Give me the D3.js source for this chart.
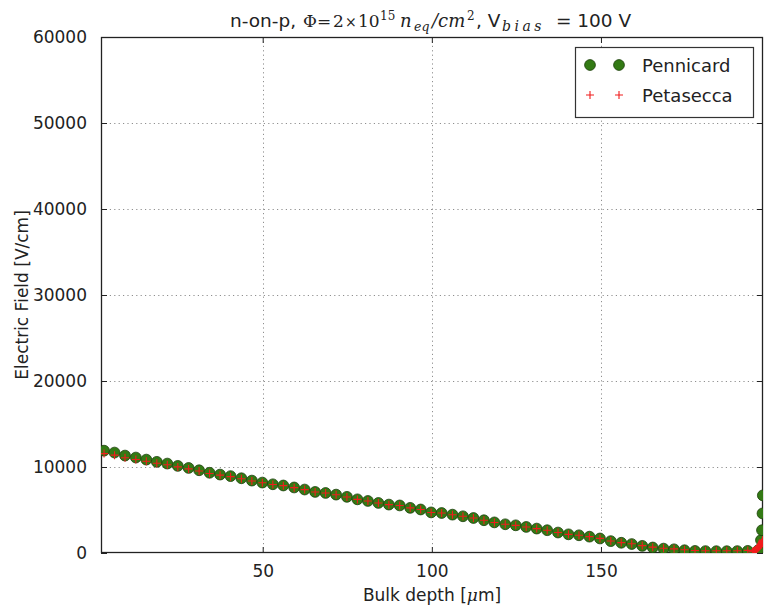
<!DOCTYPE html>
<html>
<head>
<meta charset="utf-8">
<script src="https://cdn.jsdelivr.net/npm/d3@7"></script>
<style>
  html, body { margin: 0; padding: 0; background: #fff; }
  svg { display: block; }
  text { fill: #222; }
</style>
</head>
<body>
<svg id="chart" width="764" height="609"></svg>
<script>
// Bulk depth sample positions [µm] and electric field [V/cm] for both models
const depthPennicard = [
  3.1, 6.2, 9.3, 12.5, 15.6, 18.7, 21.8, 24.9, 28.1, 31.2,
  34.3, 37.4, 40.5, 43.7, 46.8, 49.9, 53.0, 56.1, 59.3, 62.4,
  65.5, 68.6, 71.7, 74.9, 78.0, 81.1, 84.2, 87.3, 90.5, 93.6,
  96.7, 99.8, 102.9, 106.1, 109.2, 112.3, 115.4, 118.5, 121.7, 124.8,
  127.9, 131.0, 134.1, 137.3, 140.4, 143.5, 146.6, 149.7, 152.9, 156.0,
  159.1, 162.2, 165.3, 168.5, 171.6, 174.7, 177.8, 180.9, 184.1, 187.2,
  190.3, 193.4, 196.5, 197.3, 197.6, 197.75, 197.85
];
const fieldPennicard = [
  11900, 11680, 11330, 11100, 10860, 10600, 10400, 10130, 9890, 9620,
  9330, 9120, 8940, 8690, 8420, 8190, 7990, 7850, 7620, 7380,
  7100, 6980, 6790, 6530, 6240, 6050, 5820, 5630, 5530, 5250,
  5060, 4720, 4650, 4460, 4270, 4070, 3810, 3560, 3340, 3220,
  3030, 2840, 2650, 2380, 2170, 2060, 1900, 1690, 1380, 1190,
  1040, 830, 640, 510, 430, 320, 240, 220, 210, 210,
  220, 250, 330, 1500, 2650, 4600, 6700
];
const depthPetasecca = [
  3.1, 6.2, 9.3, 12.5, 15.6, 18.7, 21.8, 24.9, 28.1, 31.2,
  34.3, 37.4, 40.5, 43.7, 46.8, 49.9, 53.0, 56.1, 59.3, 62.4,
  65.5, 68.6, 71.7, 74.9, 78.0, 81.1, 84.2, 87.3, 90.5, 93.6,
  96.7, 99.8, 102.9, 106.1, 109.2, 112.3, 115.4, 118.5, 121.7, 124.8,
  127.9, 131.0, 134.1, 137.3, 140.4, 143.5, 146.6, 149.7, 152.9, 156.0,
  159.1, 162.2, 165.3, 168.5, 171.6, 174.7, 177.8, 180.9, 184.1, 187.2,
  190.3, 193.4, 194.8, 195.1, 195.4, 195.7, 196.0, 196.2, 196.4, 196.6,
  196.8, 197.0, 197.1, 197.2, 197.3, 197.4, 197.5, 197.6, 197.7, 197.8,
  197.85
];
const fieldPetasecca = [
  11560, 11380, 11080, 10880, 10670, 10440, 10260, 10010, 9780, 9530,
  9250, 9050, 8880, 8640, 8380, 8160, 7960, 7830, 7600, 7370,
  7090, 6970, 6780, 6520, 6235, 6045, 5815, 5625, 5525, 5245,
  5055, 4715, 4645, 4455, 4265, 4065, 3805, 3555, 3335, 3215,
  3025, 2835, 2645, 2380, 2170, 2060, 1900, 1700, 1400, 1210,
  1070, 860, 680, 560, 480, 370, 290, 270, 260, 260,
  270, 300, 150, 210, 280, 360, 450, 520, 590, 670,
  760, 850, 900, 950, 1010, 1080, 1150, 1230, 1320, 1420,
  1500
];

const xTicks = [50, 100, 150];
const yTicks = [0, 10000, 20000, 30000, 40000, 50000, 60000];
const seriesNames = ["Pennicard", "Petasecca"];

const svg = d3.select("#chart");
const plot = { left: 101, top: 37, right: 763, bottom: 553 };

const x = d3.scaleLinear().domain([2.2, 197.9]).range([plot.left, plot.right]);
const y = d3.scaleLinear().domain([0, 60000]).range([plot.bottom, plot.top]);

const sans = "'DejaVu Sans', sans-serif";
const serif = "'DejaVu Serif', 'Liberation Serif', serif";

svg.append("defs").append("clipPath").attr("id", "plot-clip")
  .append("rect")
  .attr("x", plot.left).attr("y", plot.top)
  .attr("width", plot.right - plot.left).attr("height", plot.bottom - plot.top);

// dotted grid
const grid = svg.append("g").attr("stroke", "#8f8f8f").attr("stroke-width", 1)
  .attr("stroke-dasharray", "1.2,3.2");
grid.selectAll("line.gx").data(xTicks).join("line").attr("class", "gx")
  .attr("x1", d => Math.round(x(d)) + 0.5).attr("x2", d => Math.round(x(d)) + 0.5)
  .attr("y1", plot.top).attr("y2", plot.bottom);
grid.selectAll("line.gy").data(yTicks.filter(d => d > 0 && d < 60000)).join("line").attr("class", "gy")
  .attr("y1", d => Math.round(y(d)) + 0.5).attr("y2", d => Math.round(y(d)) + 0.5)
  .attr("x1", plot.left).attr("x2", plot.right);

// axes with inward ticks on all four sides
const tick = 6;
const axisBottom = d3.axisBottom(x).tickValues(xTicks).tickSizeInner(-tick).tickSizeOuter(0).tickPadding(12);
const axisTop = d3.axisTop(x).tickValues(xTicks).tickSizeInner(-tick).tickSizeOuter(0).tickFormat("");
const axisLeft = d3.axisLeft(y).tickValues(yTicks).tickSizeInner(-tick).tickSizeOuter(0).tickPadding(14).tickFormat(d3.format("d"));
const axisRight = d3.axisRight(y).tickValues(yTicks).tickSizeInner(-tick).tickSizeOuter(0).tickFormat("");

function styleAxis(g) {
  g.select(".domain").remove();
  g.selectAll(".tick line").attr("stroke", "#222").attr("stroke-width", 1);
  g.selectAll(".tick text").attr("fill", "#222").style("font-family", sans).style("font-size", "17px");
}
svg.append("g").attr("transform", `translate(0,${plot.bottom})`).call(axisBottom).call(styleAxis);
svg.append("g").attr("transform", `translate(0,${plot.top})`).call(axisTop).call(styleAxis);
svg.append("g").attr("transform", `translate(${plot.left},0)`).call(axisLeft).call(styleAxis);
svg.append("g").attr("transform", `translate(${plot.right},0)`).call(axisRight).call(styleAxis);

// frame
svg.append("rect")
  .attr("x", plot.left + 0.5).attr("y", plot.top + 0.5)
  .attr("width", plot.right - plot.left - 1).attr("height", plot.bottom - plot.top - 1)
  .attr("fill", "none").attr("stroke", "#222").attr("stroke-width", 1.3);

// data markers
const marks = svg.append("g").attr("clip-path", "url(#plot-clip)");
const green = "#337a14", greenEdge = "#1c3f0a", red = "#f01c1c";

marks.append("g").selectAll("circle")
  .data(d3.zip(depthPennicard, fieldPennicard)).join("circle")
  .attr("cx", d => x(d[0])).attr("cy", d => y(d[1])).attr("r", 5.4)
  .attr("fill", green).attr("stroke", greenEdge).attr("stroke-width", 0.8);

const plus = "M-4,0H4M0,-4V4";
marks.append("g").selectAll("path")
  .data(d3.zip(depthPetasecca, fieldPetasecca)).join("path")
  .attr("d", plus)
  .attr("transform", d => `translate(${x(d[0])},${y(d[1])})`)
  .attr("stroke", red).attr("stroke-width", 1.1).attr("fill", "none");

// legend
const lg = svg.append("g");
lg.append("rect").attr("x", 575.5).attr("y", 47.5).attr("width", 178).attr("height", 70)
  .attr("fill", "#fff").attr("stroke", "#333").attr("stroke-width", 1.2);
const rows = [65, 95];
[590, 619].forEach(mx => {
  lg.append("circle").attr("cx", mx).attr("cy", rows[0]).attr("r", 5.4)
    .attr("fill", green).attr("stroke", greenEdge).attr("stroke-width", 0.8);
  lg.append("path").attr("d", plus).attr("transform", `translate(${mx},${rows[1]})`)
    .attr("stroke", red).attr("stroke-width", 1.1);
});
lg.selectAll("text.lt").data(seriesNames).join("text").attr("class", "lt")
  .attr("x", 642).attr("y", (d, i) => rows[i] + 6.5)
  .style("font-family", sans).style("font-size", "18px").text(d => d);

// title: plain text with math-styled pieces
const title = svg.append("text").attr("y", 27).style("font-family", sans).style("font-size", "18.5px");
const parts = [
  { t: "n-on-p,", x: 230, f: sans },
  { t: "\u03A6", x: 303, f: serif, s: 17 },
  { t: "=", x: 317, f: serif, s: 17 },
  { t: "2", x: 333, f: serif, s: 17 },
  { t: "\u00D7", x: 345, f: serif, s: 14 },
  { t: "10", x: 358, f: serif, s: 17 },
  { t: "15", x: 380, f: serif, s: 12, dy: -7 },
  { t: "n", x: 400, f: serif, s: 18, it: true, dy: 7 },
  { t: "eq", x: 414, f: serif, s: 12.5, it: true, dy: 4 },
  { t: "/cm", x: 432, f: serif, s: 18, it: true, dy: -4 },
  { t: "2", x: 467, f: serif, s: 12, dy: -7 },
  { t: ", V", x: 476, f: sans, dy: 7 },
  { t: "bias", x: 502, f: serif, s: 14, it: true, dy: 4, ls: 3.5 },
  { t: " = 100 V", x: 550, f: sans, dy: -4 }
];
parts.forEach(p => {
  const ts = title.append("tspan").attr("x", p.x).text(p.t).style("font-family", p.f);
  if (p.s) ts.style("font-size", p.s + "px");
  if (p.it) ts.style("font-style", "italic");
  if (p.dy) ts.attr("dy", p.dy);
  if (p.ls) ts.style("letter-spacing", p.ls + "px");
});

// axis labels
const xl = svg.append("text").attr("x", 432).attr("y", 601)
  .attr("text-anchor", "middle").style("font-family", sans).style("font-size", "17px");
xl.append("tspan").text("Bulk depth [");
xl.append("tspan").text("\u03BC").style("font-family", serif).style("font-style", "italic").style("font-size", "17px");
xl.append("tspan").text("m]");

svg.append("text").attr("transform", "translate(28,295) rotate(-90)")
  .attr("text-anchor", "middle").style("font-family", sans).style("font-size", "17px")
  .text("Electric Field [V/cm]");
</script>
</body>
</html>
